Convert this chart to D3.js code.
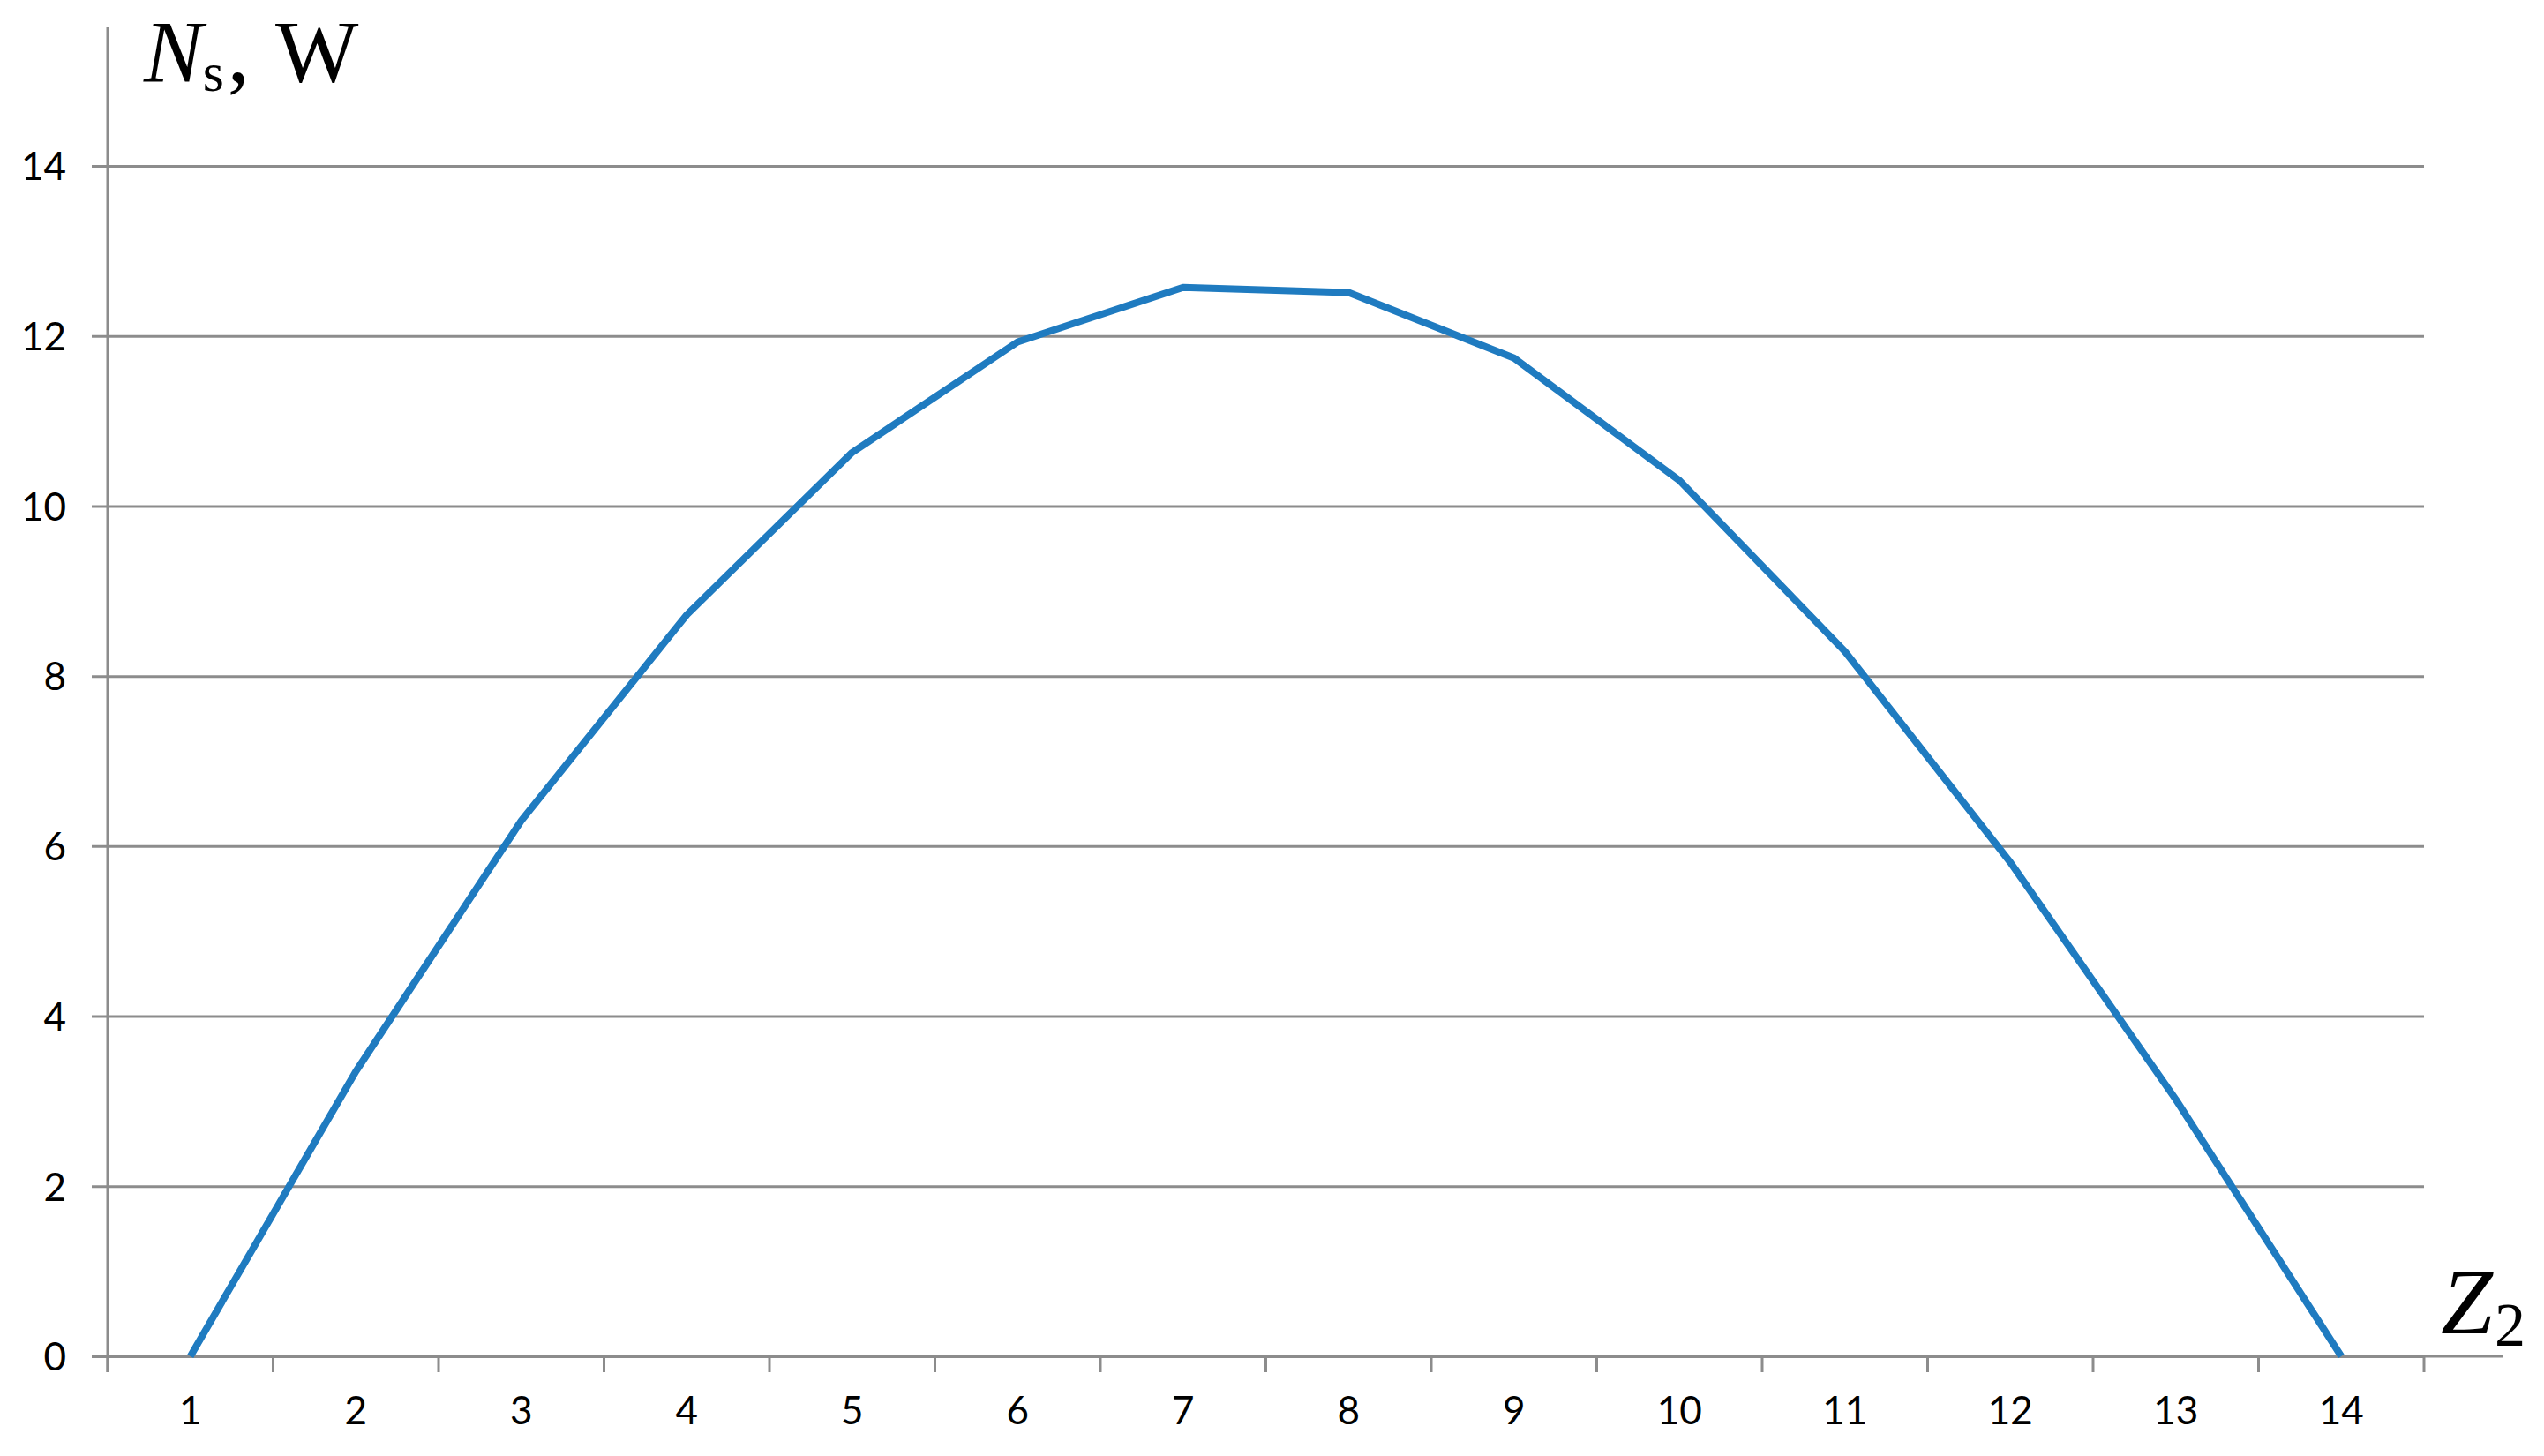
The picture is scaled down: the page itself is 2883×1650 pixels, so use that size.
<!DOCTYPE html>
<meta charset="utf-8">
<style>
body { margin: 0; background: #fff; }
.grid line { stroke: #8c8c8c; stroke-width: 3px; }
.axis path, .axis line { stroke: #8c8c8c; stroke-width: 3px; }
.tick text { font-family: Lato, "Noto Sans", sans-serif; font-size: 44px; fill: #000; }
.ttl { font-family: "Liberation Serif", "DejaVu Serif", serif; fill: #000; }
</style>
<svg width="2883" height="1650"></svg>
<script src="https://d3js.org/d3.v7.min.js"></script>
<script>
// values
var categories = [1, 2, 3, 4, 5, 6, 7, 8, 9, 10, 11, 12, 13, 14];
var power = [0, 3.35, 6.3, 8.72, 10.63, 11.93, 12.57, 12.51, 11.74, 10.3, 8.29, 5.81, 3.02, 0];
var yTicks = [0, 2, 4, 6, 8, 10, 12, 14];

var svg = d3.select("svg"),
    plotLeft = 122, plotRight = 2747,
    plotTop = 188, plotBottom = 1537;

var x = d3.scaleBand()
    .domain(categories)
    .range([plotLeft, plotRight])
    .padding(0);

var y = d3.scaleLinear()
    .domain([0, 14])
    .range([plotBottom, plotTop]);

// horizontal gridlines + y tick labels
var gy = svg.append("g")
    .attr("class", "grid")
    .attr("transform", "translate(" + plotLeft + ",0)")
    .call(d3.axisLeft(y)
      .tickValues(yTicks)
      .tickSizeInner(-(plotRight - plotLeft))
      .tickSizeOuter(0)
      .tickPadding(47));
gy.select(".domain").remove();
gy.selectAll(".tick line").attr("x1", -18);
gy.selectAll(".tick text").attr("dy", "0.36em");

// y axis line, running up past the last gridline
svg.append("line")
    .attr("x1", plotLeft).attr("x2", plotLeft)
    .attr("y1", 31).attr("y2", plotBottom + 18)
    .attr("stroke", "#8c8c8c").attr("stroke-width", 3);

// x axis: ticks between categories, labels centred
var gx = svg.append("g")
    .attr("class", "axis")
    .attr("transform", "translate(0," + plotBottom + ")")
    .call(d3.axisBottom(x).tickSize(0).tickPadding(46));
gx.select(".domain").remove();
gx.selectAll(".tick text").attr("dy", "0.71em");

gx.selectAll("line.sep")
    .data(categories.concat([15]))
    .enter().append("line")
      .attr("class", "sep")
      .attr("x1", function(d) { return d === 15 ? plotRight : x(d); })
      .attr("x2", function(d) { return d === 15 ? plotRight : x(d); })
      .attr("y1", 0).attr("y2", 18);

gx.append("line")
    .attr("x1", plotLeft - 18).attr("x2", 2836)
    .attr("y1", 0).attr("y2", 0);

// the curve
var line = d3.line()
    .x(function(d, i) { return x(categories[i]) + x.bandwidth() / 2; })
    .y(function(d) { return y(d); });

svg.append("path")
    .datum(power)
    .attr("fill", "none")
    .attr("stroke", "#1f7bc0")
    .attr("stroke-width", 8)
    .attr("stroke-linejoin", "round")
    .attr("d", line);

// axis titles
var yt = svg.append("text")
    .attr("class", "ttl")
    .attr("x", 163).attr("y", 92);
yt.append("tspan").attr("font-style", "italic").attr("font-size", 100).text("N");
yt.append("tspan").attr("font-size", 62).attr("dy", 11).text("s");
yt.append("tspan").attr("font-size", 100).attr("dy", -11).attr("dx", 4).text(", ");
yt.append("tspan").attr("font-size", 100).attr("dx", 6).text("W");

var xt = svg.append("text")
    .attr("class", "ttl")
    .attr("x", 2766).attr("y", 1511);
xt.append("tspan").attr("font-style", "italic").attr("font-size", 106).text("Z");
xt.append("tspan").attr("font-size", 70).attr("dy", 14).attr("dx", 2).text("2");
</script>
